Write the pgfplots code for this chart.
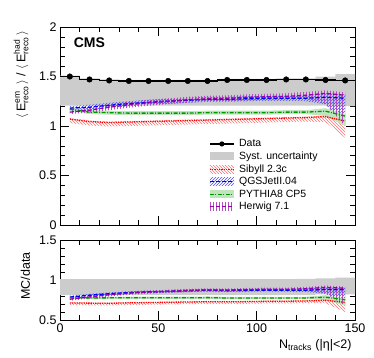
\documentclass[border=0pt]{standalone}
\usepackage{fontspec}
\setmainfont{Liberation Sans}
\usepackage{pgfplots}
\usepackage{pgfplotstable}
\pgfplotsset{compat=1.18}
\usepgfplotslibrary{fillbetween}
\usetikzlibrary{patterns}

\definecolor{sibred}{RGB}{255,0,0}
\definecolor{qgsblue}{RGB}{0,0,255}
\definecolor{pygreen}{RGB}{0,150,0}
\definecolor{hwpurple}{RGB}{150,0,170}
\definecolor{systgray}{RGB}{204,204,204}

\newcommand{\sx}[1]{\mbox{\fontsize{8.5}{9}\selectfont #1}}
\newcommand{\lf}{\fontsize{10.5}{12}\selectfont}

% data (top panel)
\pgfplotstableread{
x d
5 1.50
15 1.47
25 1.46
35 1.455
45 1.455
55 1.455
65 1.455
75 1.455
85 1.465
95 1.465
105 1.465
115 1.47
125 1.47
135 1.465
145 1.46
}\dataT
% data histogram edges + syst band
\pgfplotstableread{
x d lo hi
0 1.50 1.205 1.51
10 1.47 1.205 1.48
20 1.46 1.205 1.47
30 1.455 1.205 1.465
40 1.455 1.205 1.465
50 1.455 1.205 1.465
60 1.455 1.205 1.465
70 1.455 1.205 1.465
80 1.465 1.205 1.475
90 1.465 1.205 1.475
100 1.465 1.205 1.475
110 1.47 1.205 1.48
120 1.47 1.205 1.48
130 1.465 1.205 1.50
140 1.46 1.20 1.525
150 1.46 1.20 1.525
}\edgeT
\pgfplotstableread{
x lo hi
0 0.81 1.01
10 0.81 1.01
20 0.81 1.01
30 0.81 1.01
40 0.81 1.01
50 0.81 1.01
60 0.81 1.01
70 0.81 1.01
80 0.81 1.01
90 0.81 1.01
100 0.81 1.01
110 0.81 1.01
120 0.81 1.015
130 0.82 1.02
140 0.82 1.03
150 0.82 1.03
}\rsystT

% MC (top panel): x y lo hi
\pgfplotstableread{
x y lo hi
5 1.07 1.03 1.08
15 1.045 1.005 1.055
25 1.035 0.995 1.045
35 1.04 1.0 1.05
45 1.045 1.005 1.055
55 1.05 1.01 1.06
65 1.055 1.015 1.065
75 1.06 1.02 1.07
85 1.065 1.025 1.075
95 1.07 1.03 1.08
105 1.075 1.035 1.085
115 1.08 1.04 1.09
125 1.085 1.045 1.095
135 1.095 1.04 1.105
145 1.05 0.88 1.06
}\sibT
\pgfplotstableread{
x y lo hi
5 1.18 1.16 1.20
15 1.19 1.165 1.215
25 1.21 1.185 1.235
35 1.225 1.20 1.25
45 1.24 1.215 1.265
55 1.25 1.225 1.275
65 1.26 1.235 1.285
75 1.27 1.245 1.295
85 1.27 1.245 1.295
95 1.275 1.25 1.30
105 1.28 1.255 1.305
115 1.28 1.255 1.305
125 1.28 1.25 1.31
135 1.29 1.22 1.33
145 1.28 1.02 1.32
}\qgsT
\pgfplotstableread{
x y lo hi
5 1.17 1.155 1.185
15 1.14 1.12 1.16
25 1.135 1.115 1.155
35 1.13 1.11 1.15
45 1.13 1.11 1.15
55 1.13 1.11 1.15
65 1.13 1.11 1.15
75 1.135 1.115 1.155
85 1.135 1.115 1.155
95 1.135 1.115 1.155
105 1.135 1.115 1.155
115 1.14 1.12 1.16
125 1.14 1.12 1.16
135 1.15 1.10 1.18
145 1.10 1.00 1.12
}\pyT
\pgfplotstableread{
x y lo hi
5 1.14 1.12 1.16
15 1.16 1.135 1.185
25 1.19 1.16 1.22
35 1.215 1.185 1.245
45 1.235 1.205 1.265
55 1.25 1.22 1.28
65 1.265 1.235 1.295
75 1.275 1.245 1.305
85 1.28 1.25 1.31
95 1.29 1.26 1.32
105 1.295 1.265 1.325
115 1.30 1.27 1.33
125 1.31 1.275 1.345
135 1.33 1.22 1.36
145 1.31 1.00 1.34
}\hwT

% MC/data (bottom panel)
\pgfplotstableread{
x y lo hi
5 0.713 0.686 0.720
15 0.711 0.684 0.718
25 0.709 0.682 0.716
35 0.715 0.688 0.722
45 0.718 0.691 0.725
55 0.722 0.695 0.729
65 0.725 0.698 0.732
75 0.729 0.702 0.736
85 0.727 0.700 0.734
95 0.730 0.703 0.737
105 0.734 0.707 0.741
115 0.735 0.708 0.742
125 0.738 0.711 0.745
135 0.747 0.710 0.754
145 0.719 0.600 0.726
}\sibR
\pgfplotstableread{
x y lo hi
5 0.787 0.770 0.804
15 0.810 0.793 0.827
25 0.829 0.812 0.846
35 0.842 0.825 0.859
45 0.852 0.835 0.869
55 0.859 0.842 0.876
65 0.866 0.849 0.883
75 0.873 0.856 0.890
85 0.867 0.850 0.884
95 0.870 0.853 0.887
105 0.874 0.857 0.891
115 0.871 0.854 0.888
125 0.871 0.850 0.892
135 0.881 0.830 0.910
145 0.877 0.700 0.905
}\qgsR
\pgfplotstableread{
x y lo hi
5 0.780 0.767 0.793
15 0.776 0.762 0.790
25 0.777 0.763 0.791
35 0.777 0.763 0.791
45 0.777 0.763 0.791
55 0.777 0.763 0.791
65 0.777 0.763 0.791
75 0.780 0.766 0.794
85 0.775 0.761 0.789
95 0.775 0.761 0.789
105 0.775 0.761 0.789
115 0.776 0.762 0.790
125 0.776 0.762 0.790
135 0.785 0.750 0.810
145 0.753 0.680 0.770
}\pyR
\pgfplotstableread{
x y lo hi
5 0.760 0.740 0.780
15 0.789 0.769 0.809
25 0.815 0.795 0.835
35 0.835 0.815 0.855
45 0.849 0.829 0.869
55 0.859 0.839 0.879
65 0.869 0.849 0.889
75 0.876 0.856 0.896
85 0.874 0.854 0.894
95 0.881 0.861 0.901
105 0.884 0.864 0.904
115 0.884 0.864 0.904
125 0.891 0.868 0.914
135 0.908 0.830 0.930
145 0.897 0.680 0.920
}\hwR

% band between lo and hi columns of a table
\newcommand{\mcband}[3]{%
  \addplot[draw=none, forget plot, name path=#2l] table[x=x,y=lo] {#1};
  \addplot[draw=none, forget plot, name path=#2h] table[x=x,y=hi] {#1};
  \addplot[#3, forget plot] fill between[of=#2l and #2h];
}
\newcommand{\mclines}[4]{% sib, qgs, py, hw tables
  \mcband{#1}{s}{pattern=north west lines, pattern color=sibred!55}
  \mcband{#2}{q}{pattern=north east lines, pattern color=qgsblue!70}
  \mcband{#3}{p}{fill=pygreen!25, draw=none}
  \mcband{#4}{h}{pattern=vertical lines, pattern color=hwpurple!70}
  \addplot[forget plot, sibred, line width=1.3pt, densely dotted] table[x=x,y=y] {#1};
  \addplot[forget plot, qgsblue, line width=1.3pt, dash pattern=on 4pt off 2pt] table[x=x,y=y] {#2};
  \addplot[forget plot, pygreen, line width=1.3pt, dash pattern=on 4pt off 1.5pt on 1pt off 1.5pt] table[x=x,y=y] {#3};
  \addplot[forget plot, hwpurple, line width=1.3pt, dash pattern=on 4pt off 2pt] table[x=x,y=y] {#4};
}

\pgfplotsset{
  cmsax/.style={
    scale only axis, width=295pt,
    xmin=0, xmax=150, xtick={0,50,100,150}, minor x tick num=4,
    tick align=inside, tick pos=both,
    major tick length=9pt, minor tick length=5pt,
    tick style={black, line width=0.6pt},
    axis line style={line width=0.8pt},
    ticklabel style={font=\fontsize{12.5}{14}\selectfont},
    label style={font=\fontsize{12.5}{14}\selectfont},
    /pgf/number format/assume math mode=true,
  }
}

\begin{document}
\begin{tikzpicture}

\begin{axis}[cmsax, at={(60pt,132pt)}, height=198pt,
  ymin=0, ymax=2, ytick={0,0.5,1,1.5,2}, minor y tick num=4,
  xticklabels={},
  ylabel={$\langle\,\mbox{E}^{\sx{em}}_{\sx{reco}}\,\rangle$ / $\langle\,\mbox{E}^{\sx{had}}_{\sx{reco}}\,\rangle$},
  ylabel style={at={(axis description cs:-0.095,1)}, anchor=south east},
  legend style={at={(rel axis cs:0.505,0.44)}, anchor=north west, draw=none, fill=none,
    font=\lf, row sep=0.6pt, column sep=3pt, inner sep=0pt, nodes={inner sep=1.5pt}},
  legend cell align=left]

% syst band
\addplot[draw=none, forget plot, name path=gl, const plot mark left] table[x=x,y=lo] {\edgeT};
\addplot[draw=none, forget plot, name path=gh, const plot mark left] table[x=x,y=hi] {\edgeT};
\addplot[fill=systgray, draw=none, forget plot] fill between[of=gl and gh];

\mclines{\sibT}{\qgsT}{\pyT}{\hwT}

% data
\addplot[forget plot, black, line width=1.4pt, const plot mark left] table[x=x,y=d] {\edgeT};
\addplot[forget plot, only marks, mark=*, mark size=2.8pt, black] table[x=x,y=d] {\dataT};

\addlegendimage{legend image code/.code={
  \draw[black, line width=1.4pt] (0pt,0pt) -- (24pt,0pt);
  \path[fill=black, draw=none] (12pt,0pt) circle (2.6pt);}}
\addlegendentry{\lf Data}
\addlegendimage{legend image code/.code={
  \path[fill=systgray, draw=none] (0pt,-4pt) rectangle (24pt,4pt);}}
\addlegendentry{\lf Syst. uncertainty}
\addlegendimage{legend image code/.code={
  \path[draw=none, pattern=north west lines, pattern color=sibred!55] (0pt,-4pt) rectangle (24pt,4pt);
  \draw[sibred, line width=1.3pt, densely dotted] (0pt,0pt) -- (24pt,0pt);}}
\addlegendentry{\lf Sibyll 2.3c}
\addlegendimage{legend image code/.code={
  \path[draw=none, pattern=north east lines, pattern color=qgsblue!70] (0pt,-4pt) rectangle (24pt,4pt);
  \draw[qgsblue, line width=1.3pt, dash pattern=on 4pt off 2pt] (0pt,0pt) -- (24pt,0pt);}}
\addlegendentry{\lf QGSJetII.04}
\addlegendimage{legend image code/.code={
  \path[draw=none, fill=pygreen!25] (0pt,-4pt) rectangle (24pt,4pt);
  \draw[pygreen, line width=1.3pt, dash pattern=on 4pt off 1.5pt on 1pt off 1.5pt] (0pt,0pt) -- (24pt,0pt);}}
\addlegendentry{\lf PYTHIA8 CP5}
\addlegendimage{legend image code/.code={
  \path[draw=none, pattern=vertical lines, pattern color=hwpurple!70] (0pt,-4pt) rectangle (24pt,4pt);
  \draw[hwpurple, line width=1.3pt, dash pattern=on 4pt off 2pt] (0pt,0pt) -- (24pt,0pt);}}
\addlegendentry{\lf Herwig 7.1}

\node[anchor=north west, font=\fontsize{14}{16}\selectfont\bfseries] at (rel axis cs:0.035,0.965) {CMS};
\node[anchor=south west, inner sep=0pt, font=\fontsize{12.5}{14}\selectfont] at ([yshift=7pt]rel axis cs:0,1) {-6.6 < η < -5.2};
\node[anchor=south east, inner sep=0pt, font=\fontsize{12.5}{14}\selectfont] at ([yshift=7pt]rel axis cs:1,1) {0.22 nb\textsuperscript{-1} (13 TeV)};
\end{axis}

\begin{axis}[cmsax, at={(60pt,37pt)}, height=80pt,
  ymin=0.5, ymax=1.5, ytick={0.5,1,1.5}, minor y tick num=4,
  xlabel={N\textsubscript{tracks} (|η|<2)},
  xlabel style={at={(axis description cs:1,-0.2)}, anchor=north east},
  ylabel={MC/data},
  ylabel style={at={(axis description cs:-0.09,0.55)}, anchor=south}]
\addplot[draw=none, forget plot, name path=rl, const plot mark left] table[x=x,y=lo] {\rsystT};
\addplot[draw=none, forget plot, name path=rh, const plot mark left] table[x=x,y=hi] {\rsystT};
\addplot[fill=systgray, draw=none, forget plot] fill between[of=rl and rh];

\mclines{\sibR}{\qgsR}{\pyR}{\hwR}
\end{axis}
\pgfresetboundingbox
\useasboundingbox (0,0) rectangle (374pt,357pt);
\end{tikzpicture}
\end{document}
